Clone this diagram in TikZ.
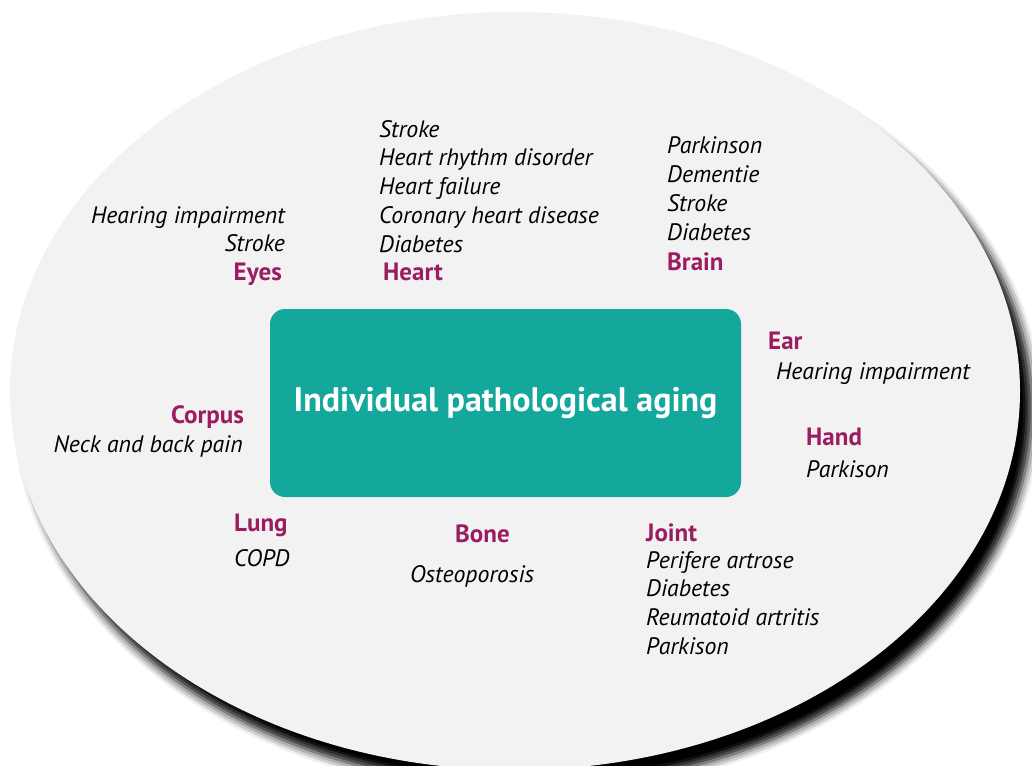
\documentclass[tikz,border=0pt]{standalone}
\usepackage{fontspec}
\setmainfont{PT Sans}
\usetikzlibrary{shadows.blur}
\definecolor{boxteal}{HTML}{14A89D}
\definecolor{organcol}{HTML}{9C1C62}
\definecolor{discfill}{HTML}{F2F2F2}
\begin{document}
\begin{tikzpicture}[x=1pt,y=-1pt,
  organ/.style={font=\fontsize{25}{28}\selectfont\bfseries, text=organcol, inner sep=0pt},
  ill/.style={font=\fontsize{23.8}{29}\selectfont\itshape, text=black, inner sep=0pt},
  core/.style={fill=boxteal, rounded corners=15pt, text=white,
    font=\fontsize{34}{40}\selectfont\bfseries}]
\useasboundingbox (0,0) rectangle (1032,765);

% background disc with its soft drop shadow
\path[fill=discfill, blur shadow={shadow xshift=12pt, shadow yshift=-17pt,
    shadow blur radius=9pt, shadow opacity=100}]
  (515,391) ellipse [x radius=505pt, y radius=379pt];

% central box
\node[core, minimum width=471pt, minimum height=188pt] (aging) at (505.5,403)
  {Individual pathological aging};

% Heart
\foreach \t [count=\i] in {Stroke, Heart rhythm disorder, Heart failure,
    Coronary heart disease, Diabetes}
  \node[ill, anchor=base west] (heart-\i) at (379,{137+28.8*(\i-1)}) {\t};
\node[organ, anchor=base west] (heart) at (383,280) {Heart};

% Brain
\foreach \t [count=\i] in {Parkinson, Dementie, Stroke, Diabetes}
  \node[ill, anchor=base west] (brain-\i) at (667,{153+29*(\i-1)}) {\t};
\node[organ, anchor=base west] (brain) at (667,270) {Brain};

% Eyes
\node[ill, anchor=base east] (eyes-1) at (285,223) {Hearing impairment};
\node[ill, anchor=base east] (eyes-2) at (285,251) {Stroke};
\node[organ, anchor=base east] (eyes) at (282,280) {Eyes};

% Ear
\node[organ, anchor=base west] (ear) at (768,349) {Ear};
\node[ill, anchor=base west] (ear-1) at (776,379) {Hearing impairment};

% Hand
\node[organ, anchor=base west] (hand) at (806,445) {Hand};
\node[ill, anchor=base west] (hand-1) at (806,477) {Parkison};

% Corpus
\node[organ, anchor=base east] (corpus) at (244,423) {Corpus};
\node[ill, anchor=base east] (corpus-1) at (243,452) {Neck and back pain};

% Lung
\node[organ, anchor=base west] (lung) at (234,531) {Lung};
\node[ill, anchor=base west] (lung-1) at (234,566) {COPD};

% Bone
\node[organ, anchor=base west] (bone) at (455,542) {Bone};
\node[ill, anchor=base west] (bone-1) at (410,582) {Osteoporosis};

% Joint
\node[organ, anchor=base west] (joint) at (646,541) {Joint};
\foreach \t [count=\i] in {Perifere artrose, Diabetes, Reumatoid artritis, Parkison}
  \node[ill, anchor=base west] (joint-\i) at (646,{568+28.8*(\i-1)}) {\t};
\end{tikzpicture}
\end{document}
